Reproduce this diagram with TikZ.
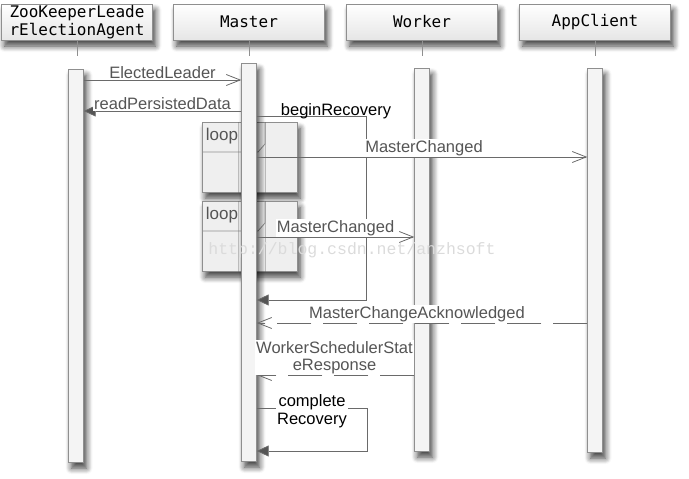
\documentclass[tikz,border=0pt]{standalone}
\usepackage{fontspec}
\setmainfont{Liberation Sans}
\newfontfamily\headfont{DejaVu Sans Mono}
\newfontfamily\markfont{Liberation Mono}
\usetikzlibrary{positioning,shadows.blur,arrows.meta}

\definecolor{boxgray}{HTML}{8F8F8F}
\definecolor{boxfill}{HTML}{E6E6E6}
\definecolor{barfill}{HTML}{F4F4F4}
\definecolor{loopfill}{HTML}{EFEFEF}
\definecolor{linegray}{HTML}{6A6A6A}
\definecolor{textgray}{HTML}{555555}
\definecolor{tipgray}{HTML}{555555}

\begin{document}
\begin{tikzpicture}[
      x=1pt,y=-1pt,
      shade/.style={
          blur shadow={shadow xshift=3pt,shadow yshift=-6pt,shadow blur radius=6pt,shadow blur steps=8,shadow opacity=75}
        },
      head/.style={
          draw=boxgray,
          top color=white,
          bottom color=boxfill,
          minimum width=151pt,
          minimum height=36pt,
          inner sep=0pt,
          align=center,
          text=black,
          font=\headfont\fontsize{16}{18}\selectfont,
          shade
        },
      bar/.style={
          draw=boxgray,
          fill=barfill,
          minimum width=15pt,
          inner sep=0pt,
          anchor=north,
          shade
        },
      loopbox/.style={
          draw=boxgray,
          fill=loopfill,
          minimum width=95pt,
          minimum height=70pt,
          anchor=north west,
          inner sep=0pt,
          shade
        },
      life/.style={draw=boxgray,line width=1pt},
      msg/.style={draw=linegray,line width=0.8pt},
      reply/.style={msg,dash pattern=on 34pt off 12pt},
      open/.style={-{Straight Barb[length=14pt,width=11pt]}},
      solid tip/.style={-{Triangle[length=12pt,width=11pt,fill=tipgray]}},
      lbl/.style={
          fill=white,
          text=textgray,
          inner sep=1pt,
          font=\fontsize{16.5}{17}\selectfont
        },
      note/.style={
          text=black,
          inner sep=1pt,
          align=center,
          font=\fontsize{16.5}{18}\selectfont
        }
    ]
    \useasboundingbox (0,0) rectangle (689,479);

    % lifeline heads
    \foreach \name/\x/\txt in {zk/77/{ZooKeeperLeade\\rElectionAgent},master/249/Master,worker/422/Worker,client/595/AppClient}
      {\node[head] (h-\name) at (\x,22) {\txt};
       \draw[life] (h-\name.south) -- ++(0,16);
      }

    % loop frames
    \foreach \top [count=\li] in {122,201}
      {\node[loopbox] (loop\li) at (202,\top) {};
       \draw[draw=boxgray,line width=0.8pt] ([yshift=-30pt]loop\li.north west) -- ++(56,0) -- ++(7,-8) -- ++(0,-22);
       \node[text=textgray,font=\fontsize{17}{18}\selectfont,inner sep=0pt] at (222,\top+14) {loop};
      }

    % activation bars
    \foreach \name/\x/\top/\bot in {zk/76/69/462,master/249/63/461,worker/422/68/451,client/595/68/452}
      \node[bar,minimum height={(\bot-\top)*1pt}] (b-\name) at (\x,\top) {};

    % messages
    \draw[msg,open] (b-zk.east |- 0,80) -- node[lbl,above] {ElectedLeader} (b-master.west |- 0,80);
    \draw[msg,solid tip] (b-master.west |- 0,111) -- node[lbl,above] {readPersistedData} (b-zk.east |- 0,111);

    \coordinate (rec-turn) at (366,300);
    \draw[msg,solid tip] (b-master.east |- 0,116) -| (rec-turn) -- (b-master.east |- rec-turn);
    \node[note] (rec-lbl) at (336,111) {beginRecovery};

    \draw[msg,open] (b-master.east |- 0,157) -- node[lbl,above,xshift=2pt] {MasterChanged} (b-client.west |- 0,157);
    \draw[msg,open] (b-master.east |- 0,237) -- node[lbl,above] {MasterChanged} (b-worker.west |- 0,237);

    \draw[reply,open] (b-client.west |- 0,323) -- node[lbl,above,xshift=-5pt] {MasterChangeAcknowledged} (b-master.east |- 0,323);
    \draw[reply,open] (b-worker.west |- 0,375) -- node[lbl,above,align=center,xshift=-1pt] {WorkerSchedulerStat\\eResponse} (b-master.east |- 0,375);

    \coordinate (done-turn) at (367,451);
    \draw[msg,solid tip] (b-master.east |- 0,408) -| (done-turn) -- (b-master.east |- done-turn);
    \node[note,fill=white] (done-lbl) at (312,411) {complete\\Recovery};

    % watermark
    \node[text=gray!28,font=\markfont\fontsize{16.5}{17}\selectfont] (mark) at (352,250) {http://blog.csdn.net/anzhsoft};
  \end{tikzpicture}
\end{document}
